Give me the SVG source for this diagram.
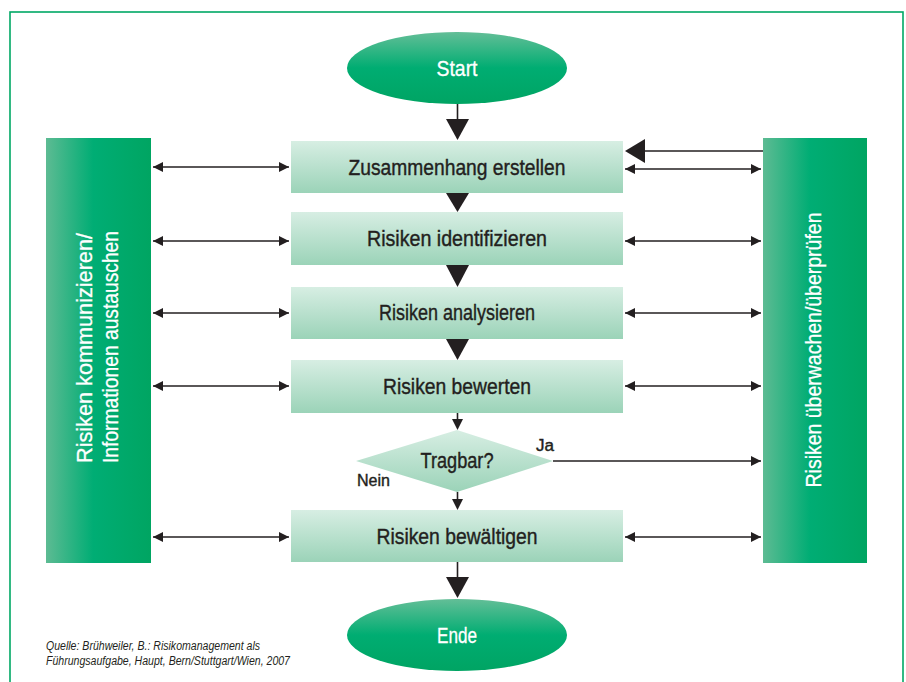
<svg xmlns="http://www.w3.org/2000/svg" width="906" height="682" viewBox="0 0 906 682">
<defs>
<linearGradient id="gBox" x1="0" y1="0" x2="0" y2="1">
<stop offset="0" stop-color="#d7eee3"/><stop offset="1" stop-color="#9bd3b8"/>
</linearGradient>
<linearGradient id="gBar" x1="0" y1="0" x2="1" y2="0">
<stop offset="0" stop-color="#5dbb93"/><stop offset="0.45" stop-color="#00ad74"/><stop offset="1" stop-color="#00a562"/>
</linearGradient>
<linearGradient id="gEll" x1="0" y1="0" x2="0" y2="1">
<stop offset="0" stop-color="#63be97"/><stop offset="0.5" stop-color="#00ad72"/><stop offset="1" stop-color="#00a463"/>
</linearGradient>
<marker id="ah" viewBox="0 0 10 10" refX="10" refY="5" markerUnits="userSpaceOnUse" markerWidth="10" markerHeight="11" orient="auto-start-reverse">
<path d="M0,0 L10,5 L0,10 z" fill="#231f20"/>
</marker>
<style>
.box{fill:url(#gBox)}
.bar{fill:url(#gBar)}
.ell{fill:url(#gEll)}
.t{font-family:"Liberation Sans Narrow","Liberation Sans",Arial,sans-serif;font-size:22px;fill:#231f20;stroke:#231f20;stroke-width:0.4;text-anchor:middle}
.w{fill:#ffffff;stroke:#ffffff;stroke-width:0.3}
.lbl{font-family:"Liberation Sans Narrow","Liberation Sans",Arial,sans-serif;font-size:16px;fill:#231f20;stroke:#231f20;stroke-width:0.4}
.src{font-family:"Liberation Sans Narrow","Liberation Sans",Arial,sans-serif;font-size:12px;font-style:italic;fill:#231f20}
.ln{stroke:#231f20;stroke-width:1.6;fill:none}
.dbl{stroke:#231f20;stroke-width:1.6;fill:none;marker-start:url(#ah);marker-end:url(#ah)}
.one{stroke:#231f20;stroke-width:1.6;fill:none;marker-end:url(#ah)}
.tri{fill:#231f20}
</style>
</defs>
<rect x="10" y="12" width="893" height="700" fill="none" stroke="#00a865" stroke-width="1.6"/>

<g id="start"><ellipse class="ell" cx="457" cy="68" rx="110" ry="36"/><text class="t w" x="457" y="76" textLength="41" lengthAdjust="spacingAndGlyphs">Start</text></g>
<g id="zusammenhang"><rect class="box" x="291" y="141" width="332" height="52"/><text class="t" x="457" y="175" textLength="217" lengthAdjust="spacingAndGlyphs">Zusammenhang erstellen</text></g>
<g id="identifizieren"><rect class="box" x="291" y="212" width="332" height="53"/><text class="t" x="457" y="246" textLength="180" lengthAdjust="spacingAndGlyphs">Risiken identifizieren</text></g>
<g id="analysieren"><rect class="box" x="291" y="287" width="332" height="52"/><text class="t" x="457" y="320" textLength="156" lengthAdjust="spacingAndGlyphs">Risiken analysieren</text></g>
<g id="bewerten"><rect class="box" x="291" y="360" width="332" height="53"/><text class="t" x="457" y="394" textLength="148" lengthAdjust="spacingAndGlyphs">Risiken bewerten</text></g>
<g id="tragbar"><polygon class="box" points="356,461 457,430 553,461 457,492"/><text class="t" x="457" y="468" textLength="73" lengthAdjust="spacingAndGlyphs">Tragbar?</text></g>
<g id="bewaeltigen"><rect class="box" x="291" y="510" width="332" height="52"/><text class="t" x="457" y="544" textLength="161" lengthAdjust="spacingAndGlyphs">Risiken bewältigen</text></g>
<g id="ende"><ellipse class="ell" cx="457" cy="635" rx="110" ry="36"/><text class="t w" x="457" y="643" textLength="40" lengthAdjust="spacingAndGlyphs">Ende</text></g>
<g id="kommunizieren"><rect class="bar" x="46" y="138" width="105" height="425"/>
<text class="t w" transform="translate(92,348) rotate(-90)" x="0" y="0" textLength="230" lengthAdjust="spacingAndGlyphs">Risiken kommunizieren/</text>
<text class="t w" transform="translate(118,347) rotate(-90)" x="0" y="0" textLength="232" lengthAdjust="spacingAndGlyphs">Informationen austauschen</text></g>
<g id="ueberwachen"><rect class="bar" x="763" y="138" width="104" height="425"/>
<text class="t w" transform="translate(821,350) rotate(-90)" x="0" y="0" textLength="275" lengthAdjust="spacingAndGlyphs">Risiken überwachen/überprüfen</text></g>

<g id="connectors">
<line class="ln" x1="457.5" y1="104" x2="457.5" y2="120"/>
<polygon class="tri" points="446,119 469,119 457.5,140"/>
<polygon class="tri" points="446,193 469,193 457.5,212"/>
<polygon class="tri" points="446,265 469,265 457.5,287"/>
<polygon class="tri" points="446,339 469,339 457.5,360"/>
<line class="ln" x1="457.5" y1="413" x2="457.5" y2="420"/>
<polygon class="tri" points="452,419 463,419 457.5,430"/>
<line class="ln" x1="457.5" y1="492" x2="457.5" y2="500"/>
<polygon class="tri" points="452,499 463,499 457.5,510"/>
<line class="ln" x1="457.5" y1="562" x2="457.5" y2="578"/>
<polygon class="tri" points="446,577 469,577 457.5,598"/>
<line class="dbl" x1="153" y1="167" x2="289" y2="167"/>
<line class="dbl" x1="153" y1="241" x2="289" y2="241"/>
<line class="dbl" x1="153" y1="313" x2="289" y2="313"/>
<line class="dbl" x1="153" y1="386" x2="289" y2="386"/>
<line class="dbl" x1="153" y1="537" x2="289" y2="537"/>
<line class="ln" x1="763" y1="151" x2="644" y2="151"/>
<polygon class="tri" points="645,139 645,163 625,151"/>
<line class="dbl" x1="625" y1="169" x2="761" y2="169"/>
<line class="dbl" x1="625" y1="241" x2="761" y2="241"/>
<line class="dbl" x1="625" y1="313" x2="761" y2="313"/>
<line class="dbl" x1="625" y1="386" x2="761" y2="386"/>
<line class="dbl" x1="625" y1="537" x2="761" y2="537"/>
<line class="one" x1="553" y1="461" x2="761" y2="461"/>
<text class="lbl" x="536" y="451" textLength="18" lengthAdjust="spacingAndGlyphs">Ja</text>
<text class="lbl" x="357" y="486" textLength="33" lengthAdjust="spacingAndGlyphs">Nein</text>
</g>

<text class="src" x="46" y="650" textLength="214" lengthAdjust="spacingAndGlyphs">Quelle: Brühweiler, B.: Risikomanagement als</text>
<text class="src" x="46" y="665" textLength="244" lengthAdjust="spacingAndGlyphs">Führungsaufgabe, Haupt, Bern/Stuttgart/Wien, 2007</text>
</svg>
